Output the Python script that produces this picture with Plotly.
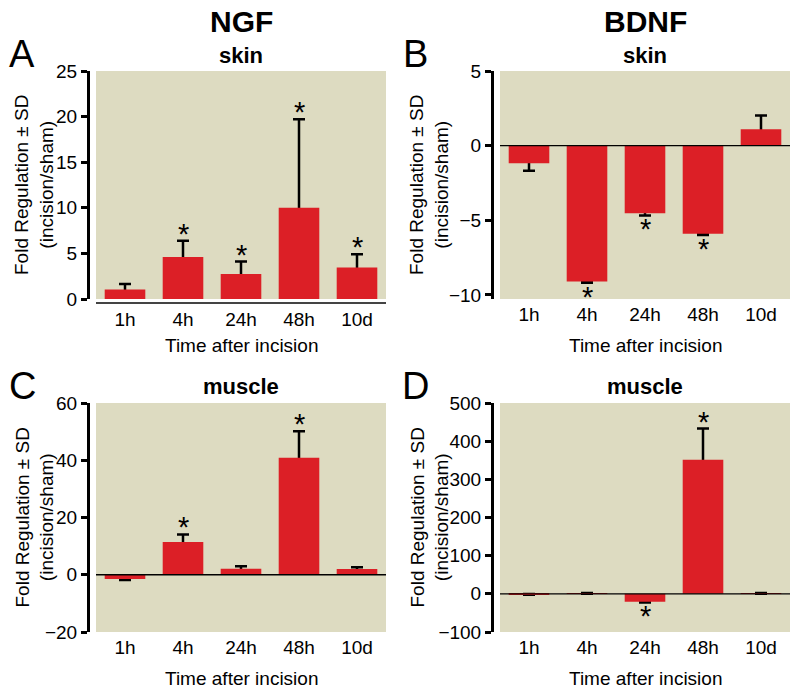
import plotly.graph_objects as go

categories = ["1h", "4h", "24h", "48h", "10d"]

ngf_skin = [1.05, 4.6, 2.75, 10.0, 3.45]
ngf_skin_sd = [0.6, 1.8, 1.35, 9.7, 1.45]
ngf_skin_sig = [False, True, True, True, True]

bdnf_skin = [-1.18, -9.1, -4.52, -5.9, 1.1]
bdnf_skin_sd = [0.5, 0.08, 0.15, 0.08, 0.92]
bdnf_skin_sig = [False, True, True, True, False]

ngf_muscle = [-1.5, 11.4, 2.1, 40.9, 2.0]
ngf_muscle_sd = [0.3, 2.7, 0.9, 9.2, 0.6]
ngf_muscle_sig = [False, True, False, True, False]

bdnf_muscle = [-1.5, 1.0, -21.0, 351.0, 1.2]
bdnf_muscle_sd = [1.0, 1.0, 1.5, 82.0, 1.0]
bdnf_muscle_sig = [False, False, True, True, False]

W, H = 800, 691
FONT = "Liberation Sans, Arial, sans-serif"
BEIGE = "#DDDBC1"
RED = "#DC1F26"

panels = [
    dict(vals=ngf_skin, sd=ngf_skin_sd, sig=ngf_skin_sig, yr=[0, 25], dt=5,
         left=96, top=71, bottom=299, letter="A", sub="skin", baseline=False,
         ttl=-62, let=-74),
    dict(vals=bdnf_skin, sd=bdnf_skin_sd, sig=bdnf_skin_sig, yr=[-10.27, 5], dt=5,
         left=500, top=71, bottom=299, letter="B", sub="skin", baseline=True,
         ttl=-71, let=-85),
    dict(vals=ngf_muscle, sd=ngf_muscle_sd, sig=ngf_muscle_sig, yr=[-20, 60], dt=20,
         left=96, top=403, bottom=632, letter="C", sub="muscle", baseline=True,
         ttl=-62, let=-74),
    dict(vals=bdnf_muscle, sd=bdnf_muscle_sd, sig=bdnf_muscle_sig, yr=[-100, 500], dt=100,
         left=500, top=403, bottom=632, letter="D", sub="muscle", baseline=True,
         ttl=-71, let=-85),
]

fig = go.Figure()
shapes = []
annotations = []
step = 58.0
xs = list(range(len(categories)))
for i, p in enumerate(panels):
    n = i + 1
    xa = "x" if n == 1 else f"x{n}"
    ya = "y" if n == 1 else f"y{n}"
    xk = "xaxis" if n == 1 else f"xaxis{n}"
    yk = "yaxis" if n == 1 else f"yaxis{n}"
    dom_l = (p["left"] - 6) / W
    dom_r = (p["left"] + 290) / W
    ydom = [1 - p["bottom"] / H, 1 - p["top"] / H]
    # error bars (drawn first, so the red bars hide their inner half)
    fig.add_trace(go.Bar(
        x=xs, y=p["vals"], xaxis=xa, yaxis=ya, width=0.7,
        marker=dict(color="rgba(0,0,0,0)", line=dict(width=0)),
        error_y=dict(type="data", array=p["sd"], visible=True,
                     color="black", thickness=2.5, width=6),
        showlegend=False, hoverinfo="skip"))
    fig.add_trace(go.Bar(
        x=xs, y=p["vals"], xaxis=xa, yaxis=ya, width=0.7,
        marker=dict(color=RED, line=dict(width=0)),
        showlegend=False, hoverinfo="skip"))
    fig.layout[xk] = dict(
        domain=[dom_l, dom_r], range=[-0.5 - 6 / step, 4.5], anchor=ya,
        tickmode="array", tickvals=xs, ticktext=categories,
        showgrid=False, zeroline=False, showline=False, ticks="",
        tickfont=dict(family=FONT, size=19, color="black"),
        ticklabelstandoff=(7 if not p["baseline"] else 2),
        automargin=False, fixedrange=True)
    fig.layout[yk] = dict(
        domain=ydom, range=p["yr"], anchor=xa, showgrid=False, zeroline=False,
        showline=True, linecolor="black", linewidth=3,
        ticks="outside", ticklen=6, tickwidth=3, tickcolor="black",
        tickmode="linear", tick0=0, dtick=p["dt"], automargin=False,
        tickfont=dict(family=FONT, size=19, color="black"), fixedrange=True)
    # beige plotting field
    shapes.append(dict(type="rect", layer="below", xref=xa, yref=f"{ya} domain",
                       x0=-0.5, x1=4.5, y0=0, y1=1, fillcolor=BEIGE, line=dict(width=0)))
    if p["baseline"]:
        shapes.append(dict(type="line", layer="above", xref=xa, yref=ya,
                           x0=-0.5, x1=4.52, y0=0, y1=0, line=dict(color="black", width=1.3)))
    else:
        shapes.append(dict(type="line", layer="above", xref=xa, yref=f"{ya} domain",
                           x0=-0.5, x1=4.5, y0=-4 / (p["bottom"] - p["top"]),
                           y1=-4 / (p["bottom"] - p["top"]),
                           line=dict(color="#444444", width=2)))
    # significance asterisks
    for j, (v, s, sg) in enumerate(zip(p["vals"], p["sd"], p["sig"])):
        if not sg:
            continue
        if v >= 0:
            annotations.append(dict(xref=xa, yref=ya, x=j, y=v + s, text="*", showarrow=False,
                                    yanchor="middle", yshift=7,
                                    font=dict(family=FONT, size=29, color="black")))
        else:
            annotations.append(dict(xref=xa, yref=ya, x=j, y=v - s, text="*", showarrow=False,
                                    yanchor="middle", yshift=-14,
                                    font=dict(family=FONT, size=29, color="black")))
    cx = (p["left"] + 145) / W
    ymid = 1 - ((p["top"] + p["bottom"]) / 2) / H
    # axis titles
    annotations.append(dict(xref="paper", yref="paper", x=(p["left"] + p["ttl"]) / W, y=ymid,
                            text="Fold Regulation ± SD<br>(incision/sham)", textangle=-90,
                            showarrow=False, xanchor="center", yanchor="middle",
                            font=dict(family=FONT, size=19, color="black")))
    annotations.append(dict(xref="paper", yref="paper", x=cx, y=1 - (p["bottom"] + 46) / H,
                            text="Time after incision", showarrow=False,
                            xanchor="center", yanchor="middle",
                            font=dict(family=FONT, size=19, color="black")))
    # subplot subtitle
    annotations.append(dict(xref="paper", yref="paper", x=cx, y=1 - (p["top"] - 16) / H,
                            text="<b>" + p["sub"] + "</b>", showarrow=False,
                            xanchor="center", yanchor="middle",
                            font=dict(family=FONT, size=22, color="black")))
    # panel letter
    annotations.append(dict(xref="paper", yref="paper", x=(p["left"] + p["let"]) / W,
                            y=1 - (p["top"] - 17) / H, text=p["letter"], showarrow=False,
                            xanchor="center", yanchor="middle",
                            font=dict(family=FONT, size=38, color="black")))

# column headers
for label, left in [("NGF", 96), ("BDNF", 500)]:
    annotations.append(dict(xref="paper", yref="paper", x=(left + 145) / W, y=1 - 22 / H,
                            text="<b>" + label + "</b>", showarrow=False,
                            xanchor="center", yanchor="middle",
                            font=dict(family=FONT, size=30, color="black")))

fig.update_layout(width=W, height=H, margin=dict(l=0, r=0, t=0, b=0),
                  paper_bgcolor="white", plot_bgcolor="white", barmode="overlay",
                  shapes=shapes, annotations=annotations)

fig.write_html("out.html", config={"displayModeBar": False},
               post_script="document.body.style.margin='0px';document.body.style.overflow='hidden';")
